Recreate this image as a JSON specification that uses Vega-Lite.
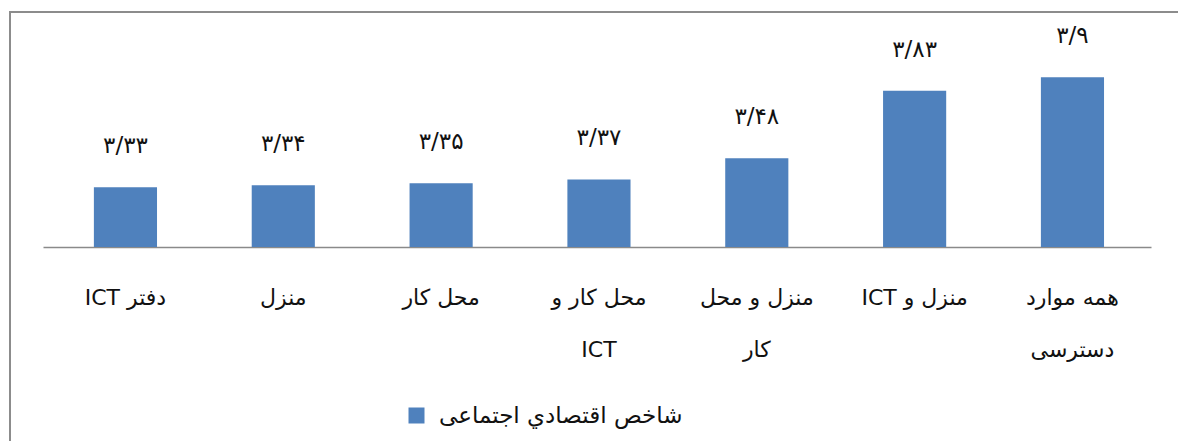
{
  "$schema": "https://vega.github.io/schema/vega-lite/v6.json",
  "usermeta": {"embedOptions": {"actions": false}},
  "width": 1180,
  "height": 435,
  "autosize": {"type": "none"},
  "padding": {"left": 10, "top": 12, "right": 0, "bottom": 0},
  "background": "white",
  "config": {
    "view": {"stroke": "#8c8c8c", "strokeWidth": 2},
    "font": "DejaVu Sans"
  },
  "data": {
    "values": [
      {"name": "ICT دفتر", "value": 3.33, "label": "۳/۳۳", "series": "شاخص اقتصادي اجتماعی"},
      {"name": "منزل", "value": 3.34, "label": "۳/۳۴", "series": "شاخص اقتصادي اجتماعی"},
      {"name": "محل کار", "value": 3.35, "label": "۳/۳۵", "series": "شاخص اقتصادي اجتماعی"},
      {"name": "محل کار و\nICT", "value": 3.37, "label": "۳/۳۷", "series": "شاخص اقتصادي اجتماعی"},
      {"name": "منزل و محل\nکار", "value": 3.48, "label": "۳/۴۸", "series": "شاخص اقتصادي اجتماعی"},
      {"name": "ICT منزل و", "value": 3.83, "label": "۳/۸۳", "series": "شاخص اقتصادي اجتماعی"},
      {"name": "همه موارد\nدسترسی", "value": 3.9, "label": "۳/۹", "series": "شاخص اقتصادي اجتماعی"}
    ]
  },
  "encoding": {
    "x": {
      "field": "name",
      "type": "nominal",
      "sort": null,
      "scale": {"range": [33, 1141], "paddingInner": 0.6, "paddingOuter": 0.31, "align": 0.52},
      "axis": {
        "orient": "bottom",
        "offset": -200,
        "labels": false,
        "ticks": false,
        "title": null,
        "domainColor": "#8a8a8a",
        "domainWidth": 1.5
      }
    }
  },
  "layer": [
    {
      "mark": {"type": "bar", "color": "#4f81bd"},
      "encoding": {
        "y": {
          "field": "value",
          "type": "quantitative",
          "scale": {"domain": [1.9837, 4.2376], "nice": false, "zero": false},
          "axis": null
        },
        "y2": {"datum": 3.02},
        "color": {
          "field": "series",
          "type": "nominal",
          "scale": {"range": ["#4f81bd"]},
          "legend": {
            "orient": "none",
            "legendX": 395,
            "legendY": 392,
            "title": null,
            "symbolType": "square",
            "symbolSize": 256,
            "symbolStrokeWidth": 0,
            "symbolOpacity": 1,
            "labelFontSize": 23,
            "labelColor": "#111111",
            "labelOffset": 11,
            "labelLimit": 500,
            "padding": 0
          }
        }
      }
    },
    {
      "mark": {"type": "text", "fontSize": 23, "dy": -41, "baseline": "middle", "color": "#111111"},
      "encoding": {
        "y": {"field": "value", "type": "quantitative"},
        "text": {"field": "label"}
      }
    },
    {
      "mark": {"type": "text", "fontSize": 22, "baseline": "top", "lineBreak": "\n", "lineHeight": 52, "color": "#111111"},
      "encoding": {
        "y": {"datum": 2.807},
        "text": {"field": "name"}
      }
    }
  ]
}
